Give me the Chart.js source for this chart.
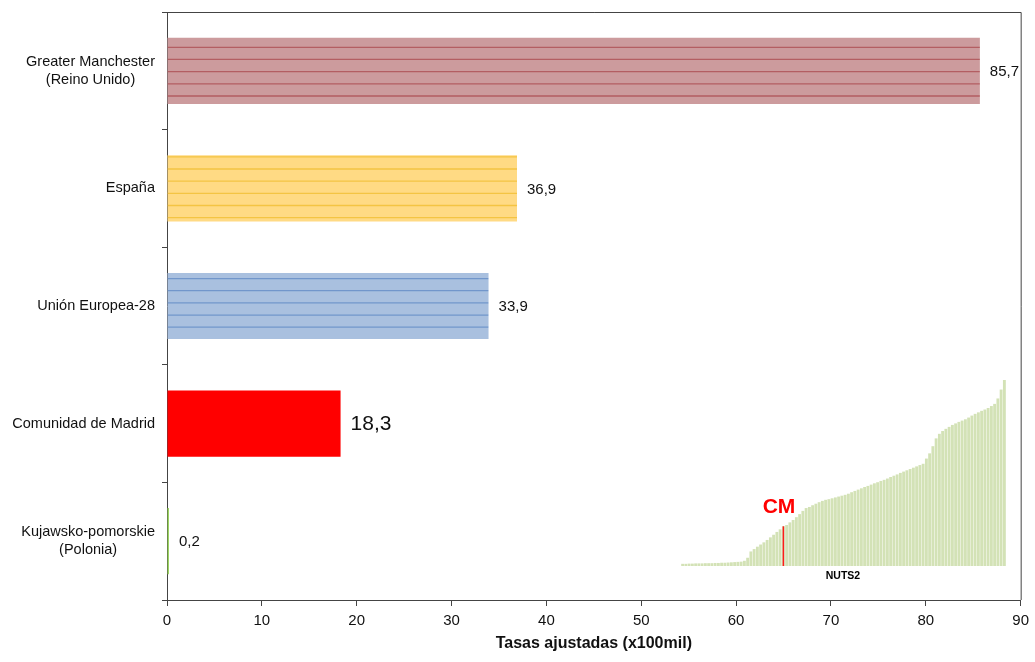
<!DOCTYPE html>
<html>
<head>
<meta charset="utf-8">
<script src="https://cdn.jsdelivr.net/npm/chart.js@4"></script>
<style>
  body { margin:0; background:#fff; }
  #wrap { position:relative; width:1035px; height:662px; }
  #main { position:absolute; left:0; top:0; }
  #inset { position:absolute; left:681px; top:380px; }
  .lbl { position:absolute; font-family:Arial,"Liberation Sans",sans-serif; font-weight:bold; white-space:nowrap; transform:translate(-50%,-50%); }
</style>
</head>
<body>
<div id="wrap">
  <canvas id="main" width="1035" height="662"></canvas>
  <canvas id="inset" width="325" height="186"></canvas>
  <div class="lbl" style="left:779px;top:506px;color:#ff0000;font-size:21px;">CM</div>
  <div class="lbl" style="left:843px;top:575px;color:#000;font-size:10.5px;">NUTS2</div>
</div>
<script>
// datos
const categories = [['Greater Manchester','(Reino Unido)'], 'España', 'Unión Europea-28', 'Comunidad de Madrid', ['Kujawsko-pomorskie','(Polonia)']];
const values = [85.7, 36.9, 33.9, 18.3, 0.2];
const xTicks = [0, 10, 20, 30, 40, 50, 60, 70, 80, 90];

// regiones NUTS2 ordenadas (recuadro pequeño)
const nuts2Values = [
  1.0, 1.0, 1.1, 1.1, 1.2, 1.2, 1.2, 1.3, 1.3, 1.3,
  1.4, 1.4, 1.5, 1.5, 1.6, 1.7, 1.8, 1.9, 2.0, 2.4,
  3.8, 6.7, 7.8, 8.9, 9.9, 10.9, 12.0, 13.2, 14.4, 15.7,
  16.9, 18.3, 18.9, 20.1, 21.2, 22.5, 23.9, 25.4, 26.7, 27.2,
  28.0, 28.7, 29.4, 30.0, 30.5, 30.8, 31.2, 31.6, 32.0, 32.4,
  32.8, 33.3, 34.0, 34.6, 35.2, 35.8, 36.4, 36.9, 37.5, 38.1,
  38.6, 39.2, 39.7, 40.3, 41.0, 41.6, 42.2, 42.9, 43.5, 44.1,
  44.7, 45.3, 45.9, 46.5, 47.1, 49.5, 51.9, 55.2, 58.8, 60.9,
  62.2, 63.2, 64.1, 65.0, 65.7, 66.4, 67.0, 67.6, 68.4, 69.3,
  70.1, 70.8, 71.5, 72.1, 72.8, 73.7, 74.7, 77.2, 81.3, 85.7
];
const cmIndex = 31;

// estilos
const fillColors = ['#CC9B9D', '#FFDA84', '#A9C0DF', '#FF0000', '#92D050'];
const stripeColors = ['#B35E62', '#F4C443', '#7196CB', null, null];
const valueFontSizes = [15, 15, 15, 21, 15];

Chart.defaults.font.family = 'Arial, "Liberation Sans", sans-serif';

const fmt = v => v.toFixed(1).replace('.', ',');

const stripes = {
  id: 'stripes',
  afterDatasetsDraw(chart) {
    const ctx = chart.ctx, area = chart.chartArea;
    chart.getDatasetMeta(0).data.forEach((bar, i) => {
      if (!stripeColors[i]) return;
      const p = bar.getProps(['x', 'y', 'base', 'height'], true);
      const top = p.y - p.height / 2, bottom = p.y + p.height / 2;
      ctx.save();
      ctx.beginPath();
      ctx.rect(p.base, top, p.x - p.base, p.height);
      ctx.clip();
      ctx.strokeStyle = stripeColors[i];
      ctx.lineWidth = 1.3;
      ctx.beginPath();
      for (let ly = area.top + 10.96; ly < bottom; ly += 12.17) {
        if (ly <= top) continue;
        ctx.moveTo(p.base, ly);
        ctx.lineTo(p.x, ly);
      }
      ctx.stroke();
      ctx.restore();
    });
  }
};

const labels = {
  id: 'labels',
  afterDraw(chart) {
    const ctx = chart.ctx, area = chart.chartArea, ys = chart.scales.y;
    ctx.save();
    // marco
    ctx.strokeStyle = '#444';
    ctx.lineWidth = 1;
    ctx.beginPath();
    ctx.moveTo(area.left, area.top + 0.5);
    ctx.lineTo(area.right + 0.5, area.top + 0.5);
    ctx.lineTo(area.right + 0.5, area.bottom);
    ctx.stroke();
    // categorias
    ctx.fillStyle = '#111';
    ctx.font = '14.5px Arial, "Liberation Sans", sans-serif';
    ctx.textAlign = 'center';
    ctx.textBaseline = 'middle';
    categories.forEach((lab, i) => {
      const lines = Array.isArray(lab) ? lab : [lab];
      const w = Math.max(...lines.map(l => ctx.measureText(l).width));
      const cx = area.left - 12 - w / 2;
      const cy = ys.getPixelForValue(i);
      lines.forEach((l, j) => ctx.fillText(l, cx, cy + (j - (lines.length - 1) / 2) * 17.7));
    });
    // valores
    ctx.textAlign = 'left';
    chart.getDatasetMeta(0).data.forEach((bar, i) => {
      ctx.font = valueFontSizes[i] + 'px Arial, "Liberation Sans", sans-serif';
      ctx.fillText(fmt(values[i]), bar.x + 10, bar.y + 1);
    });
    ctx.restore();
  }
};

new Chart(document.getElementById('main'), {
  type: 'bar',
  data: {
    labels: categories,
    datasets: [{ data: values, backgroundColor: fillColors, barPercentage: 0.563, categoryPercentage: 1 }]
  },
  options: {
    indexAxis: 'y',
    responsive: false,
    animation: false,
    devicePixelRatio: 1,
    layout: { padding: { top: 12, right: 14, left: 0, bottom: 0 } },
    plugins: { legend: { display: false }, tooltip: { enabled: false } },
    scales: {
      x: {
        min: 0, max: 90,
        afterBuildTicks: s => { s.ticks = xTicks.map(v => ({ value: v })); },
        ticks: { font: { size: 15 }, color: '#111', padding: 6, maxRotation: 0 },
        grid: { drawOnChartArea: false, tickLength: 6, color: '#444' },
        border: { color: '#444' },
        title: { display: true, text: 'Tasas ajustadas (x100mil)', font: { size: 16, weight: 'bold' }, color: '#111', padding: { top: 0, bottom: 9 } },
        afterFit: s => { s.height = 62; }
      },
      y: {
        ticks: { display: false },
        grid: { drawOnChartArea: false, tickLength: 5, color: '#444', offset: true },
        border: { color: '#444' },
        afterFit: s => { s.width = 167; }
      }
    }
  },
  plugins: [stripes, labels]
});

new Chart(document.getElementById('inset'), {
  type: 'bar',
  data: {
    labels: nuts2Values.map((_, i) => i),
    datasets: [
      { data: nuts2Values.map((v, i) => i === cmIndex ? v : null), backgroundColor: '#FF1a1a', barPercentage: 0.45, categoryPercentage: 1, grouped: false, order: 0 },
      { data: nuts2Values, backgroundColor: '#D3E2B6', barPercentage: 0.88, categoryPercentage: 1, grouped: false, order: 1 }
    ]
  },
  options: {
    responsive: false,
    animation: false,
    devicePixelRatio: 1,
    layout: { padding: 0 },
    plugins: { legend: { display: false }, tooltip: { enabled: false } },
    scales: { x: { display: false }, y: { display: false, min: 0, max: 85.7 } }
  }
});
</script>
</body>
</html>
